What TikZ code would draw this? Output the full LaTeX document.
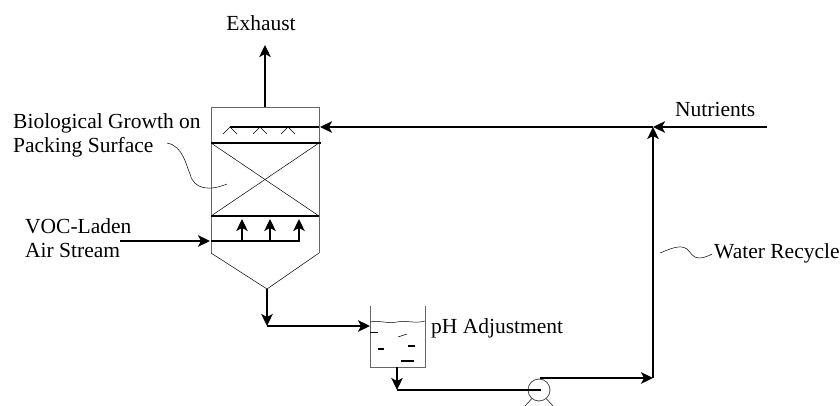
\documentclass[tikz,border=0pt]{standalone}
\usepackage{fontspec}
\setmainfont{Liberation Serif}
\usetikzlibrary{arrows.meta, positioning}
\tikzset{
    flow/.style={-{Stealth[length=12pt, width=11.5pt, inset=3pt]}, line width=1.6pt},
    bar/.style={line width=1.6pt},
    vessel/.style={draw=black!60, line width=0.8pt},
    thin line/.style={black, line width=0.5pt},
    label/.style={inner sep=0pt, font=\fontsize{21.5}{24.5}\selectfont, align=left}
}
\begin{document}
\begin{tikzpicture}[x=1pt, y=-1pt]
    \useasboundingbox (0,0) rectangle (840,406);
    % labels
    \node [label, anchor=base] (exhaust) at (261,31) {Exhaust};
    \node [label, anchor=north west] (growth) at (13,113) {Biological Growth on\\Packing Surface};
    \node [label, anchor=north west] (voc) at (25,218) {VOC-Laden\\Air Stream};
    \node [label, anchor=base west] (ph) at (431,333) {pH Adjustment};
    \node [label, anchor=base west] (nutrients) at (675,117) {Nutrients};
    \node [label, anchor=base west] (water) at (714,258) {Water Recycle};

    % tower
    \coordinate (towerTL) at (211,107);
    \coordinate (towerTR) at (319,107);
    \coordinate (towerBL) at (211,253);
    \coordinate (towerBR) at (319,253);
    \coordinate (cone) at (267,289);
    \draw [vessel] (towerBL) -- (towerTL) -- (towerTR) -- (towerBR);
    \draw [thin line] (towerBL) -- (cone) -- (towerBR);
    \draw [bar] (211,143) -- (321,143);
    \draw [bar] (211,216) -- (319,216);
    \draw [thin line] (211,143) -- (319,216);
    \draw [thin line] (319,143) -- (211,216);
    % spray
    \draw [bar] (230,127) -- (319,127);
    \foreach \sx in {230,260,288} {
        \draw [thin line] (\sx-7,134) -- (\sx,127) -- (\sx+7,134);
    }
    % air distribution
    \draw [bar] (211,241) -- (299.8,241);
    \foreach \ax in {242,270,299} {
        \draw [flow] (\ax,241) -- (\ax,219);
    }

    % tank
    \coordinate (tankTL) at (370,306);
    \coordinate (tankTR) at (425,306);
    \coordinate (tankBL) at (370,367);
    \coordinate (tankBR) at (425,367);
    \draw [vessel] (tankTL) -- (tankBL) -- (tankBR) -- (tankTR);
    \draw [thin line] (370,322) .. controls (380,320) and (387,324) .. (397,322) .. controls (407,320) and (415,324) .. (425,321);
    \draw [thin line] (370,332) -- (378,332);
    \draw [thin line] (398,337) -- (407,334);
    \draw [bar] (378,349) -- (384,349);
    \draw [bar] (408,346) -- (415,346);
    \draw [bar] (401,361) -- (414,361);

    % pump
    \node [draw=black!70, circle, line width=0.8pt, minimum size=22pt, inner sep=0pt] (pump) at (539,390) {};
    \draw [thin line] (pump.230) -- (525,406);
    \draw [thin line] (pump.310) -- (553,406);

    % streams
    \coordinate (tee) at (653,127);
    \coordinate (drop) at (267,326);
    \coordinate (outlet) at (397,390);
    \coordinate (riser) at (653,378);
    \draw [flow] (265,107) -- (265,45);
    \draw [flow] (120,241) -- (210,241);
    \draw [flow] (cone) -- (drop);
    \draw [flow] (drop) -- (370,326);
    \draw [flow] (397,367) -- (outlet);
    \draw [bar] (outlet) -- (541,390);
    \draw [flow] (540,378) -- (riser);
    \draw [flow] (riser) -- (tee);
    \draw [flow] (767,127) -- (tee);
    \draw [flow] (tee) -- (320,127);

    % leaders
    \draw [thin line] (167,143) .. controls (183,146) and (186,165) .. (190,174) .. controls (194,190) and (210,191) .. (227,184);
    \draw [thin line] (660,253) .. controls (670,249) and (680,244) .. (687,249) .. controls (691,253) and (693,258) .. (699,258) .. controls (704,258) and (708,256) .. (712,254);
\end{tikzpicture}
\end{document}
